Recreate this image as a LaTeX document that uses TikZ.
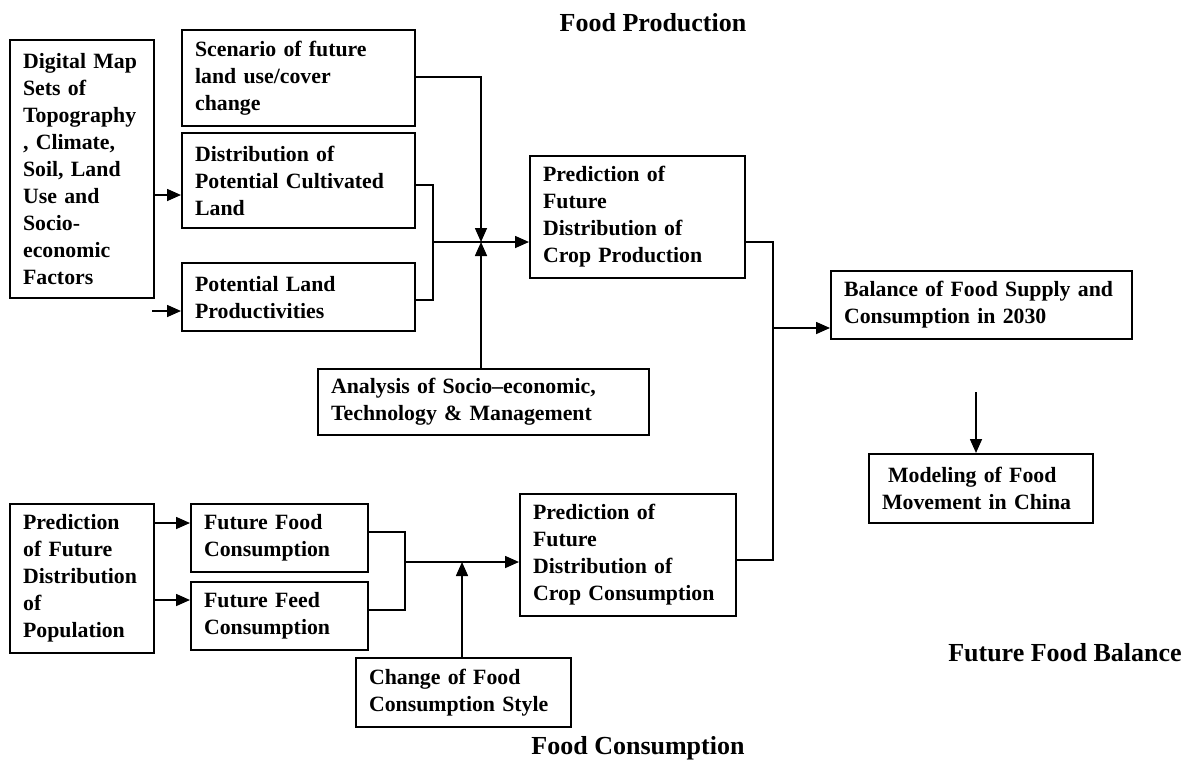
\documentclass[tikz,border=0pt]{standalone}
\usepackage{fontspec}
\setmainfont{Liberation Serif}
\usetikzlibrary{arrows.meta}
\begin{document}
\begin{tikzpicture}[x=1pt,y=-1pt,
  font=\fontsize{21.8}{27}\selectfont\bfseries,
  blk/.style={draw, line width=2.2pt, anchor=north west, align=left,
              inner xsep=13pt, inner ysep=0pt},
  link/.style={line width=1.6pt},
  arr/.style={link, -{Triangle[length=14pt,width=12pt]}},
  heading/.style={anchor=center, inner sep=0pt,
                  font=\fontsize{26}{30}\selectfont\bfseries}]
\useasboundingbox (0,0) rectangle (1192,763);

% ---- food production ----
\node[blk, minimum width=144pt, minimum height=258pt, text width=118pt] (dm) at (9,39)
  {Digital~Map\\Sets~of\\Topography\\,~Climate,\\Soil,~Land\\Use~and\\Socio-\\economic\\Factors};
\node[blk, minimum width=233pt, minimum height=96pt, text width=207pt] (sc) at (181,29)
  {Scenario~of~future\\land~use/cover\\change};
\node[blk, minimum width=233pt, minimum height=95pt, text width=207pt] (dp) at (181,132)
  {Distribution~of\\Potential~Cultivated\\Land};
\node[blk, minimum width=233pt, minimum height=68pt, text width=207pt] (pl) at (181,262)
  {Potential~Land\\Productivities};
\node[blk, minimum width=215pt, minimum height=122pt, text width=189pt] (pp) at (529,155)
  {Prediction~of\\Future\\Distribution~of\\Crop~Production};
\node[blk, minimum width=331pt, minimum height=66pt, text width=305pt] (an) at (317,368)
  {Analysis~of~Socio--economic,\\Technology~\&~Management};

% ---- food balance ----
\node[blk, minimum width=301pt, minimum height=68pt, text width=275pt] (bal) at (830,270)
  {Balance~of~Food~Supply~and\\Consumption~in~2030};
\node[blk, minimum width=224pt, minimum height=69pt, text width=198pt] (mod) at (868,453)
  {\hspace{6pt}Modeling~of~Food\\Movement~in~China};

% ---- food consumption ----
\node[blk, minimum width=144pt, minimum height=149pt, text width=118pt] (pop) at (9,503)
  {Prediction\\of~Future\\Distribution\\of\\Population};
\node[blk, minimum width=177pt, minimum height=68pt, text width=151pt] (ff) at (190,503)
  {Future~Food\\Consumption};
\node[blk, minimum width=177pt, minimum height=68pt, text width=151pt] (fd) at (190,581)
  {Future~Feed\\Consumption};
\node[blk, minimum width=216pt, minimum height=122pt, text width=190pt] (pc) at (519,493)
  {Prediction~of\\Future\\Distribution~of\\Crop~Consumption};
\node[blk, minimum width=215pt, minimum height=69pt, text width=189pt] (ch) at (355,657)
  {Change~of~Food\\Consumption~Style};

% ---- section headings ----
\node[heading] (hprod) at (653,23) {Food Production};
\node[heading] (hbal) at (1065,653) {Future Food Balance};
\node[heading] (hcons) at (638,748) {Food Consumption};

% ---- junction points ----
\coordinate (j1) at (433,242);
\coordinate (j2) at (481,242);
\coordinate (j3) at (773,328);
\coordinate (j4) at (405,562);
\coordinate (j5) at (462,562);
\coordinate (plin) at (152,311);
\coordinate (modin) at (976,392);

% ---- production connectors ----
\draw[arr] (dm.east |- 0,195) -- (dp.west |- 0,195);
\draw[arr] (plin) -- (pl.west |- plin);
\draw[link] (dp.east |- 0,185) -| (j1 |- 0,300) -- (pl.east |- 0,300);
\draw[arr] (j1) -- (pp.west |- j1);
\draw[arr] (sc.east |- 0,77) -| (j2);
\draw[arr] (an.north -| j2) -- (j2);

% ---- balance connectors ----
\draw[link] (pp.east |- 0,242) -| (j3 |- 0,560) -- (pc.east |- 0,560);
\draw[arr] (j3) -- (bal.west |- j3);
\draw[arr] (modin) -- (modin |- mod.north);

% ---- consumption connectors ----
\draw[arr] (pop.east |- 0,523) -- (ff.west |- 0,523);
\draw[arr] (pop.east |- 0,600) -- (fd.west |- 0,600);
\draw[link] (ff.east |- 0,532) -| (j4 |- 0,610) -- (fd.east |- 0,610);
\draw[arr] (j4) -- (pc.west |- j4);
\draw[arr] (ch.north -| j5) -- (j5);
\end{tikzpicture}
\end{document}
